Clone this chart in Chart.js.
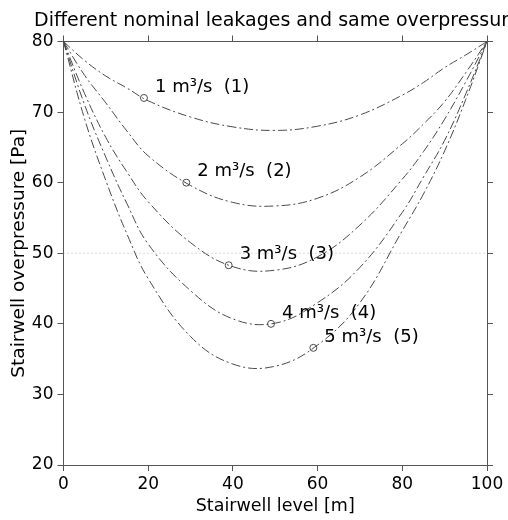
<!DOCTYPE html>
<html lang="en">
  <head>
    <meta charset="UTF-8" />
    <script src="https://cdn.jsdelivr.net/npm/chart.js"></script>
    <title>Different nominal leakages and same overpressure</title>
    <style>
      body { margin: 0; background: #fff; }
      #box { position: relative; width: 508px; height: 520px; }
    </style>
  </head>
  <body>
    <div id="box"><canvas id="myChart"></canvas></div>
  </body>
  <script>
    // dados
    const levels = [0, 5, 10, 15, 20, 30, 40, 50, 60, 70, 80, 85, 90, 95, 100];
    const curve1 = [80, 77.3, 75.1, 73.4, 71.6, 69.3, 67.9, 67.4, 68.0, 69.6, 72.4, 74.2, 76.3, 78.1, 80];
    const curve2 = [80, 75.2, 71.3, 67.3, 63.8, 59.6, 57.2, 56.7, 57.8, 60.8, 65.5, 68.3, 71.5, 75.6, 80];
    const curve3 = [80, 72.6, 66.4, 61.5, 57.3, 51.5, 48.1, 47.6, 49.5, 54.0, 60.5, 64.4, 69.0, 74.3, 80];
    const curve4 = [80, 71.0, 63.6, 57.0, 51.3, 44.7, 40.7, 40.1, 43.0, 48.0, 55.8, 60.8, 66.0, 72.6, 80];
    const curve5 = [80, 69.0, 60.3, 52.7, 46.4, 38.2, 34.3, 34.0, 37.0, 43.0, 53.2, 58.4, 64.5, 71.8, 80];
    const curves = [curve1, curve2, curve3, curve4, curve5];

    const markerX = [19, 29, 39, 49, 59];
    const markerY = [72, 60, 48.3, 40, 36.6];
    const curveNames = ["1 m³/s  (1)", "2 m³/s  (2)", "3 m³/s  (3)", "4 m³/s  (4)", "5 m³/s  (5)"];

    const refLevel = 50;
    const xTicks = [0, 20, 40, 60, 80, 100];
    const yTicks = [20, 30, 40, 50, 60, 70, 80];

    const fonte = "DejaVu Sans";
    const corLinha = "#4a4a4a";
    const corEixo = "#555";

    const datasets = curves.map((c) => ({
      type: "line",
      data: levels.map((x, i) => ({ x: x, y: c[i] })),
      borderColor: corLinha,
      borderWidth: 1,
      borderDash: [9, 3, 2, 3],
      pointRadius: 0,
      tension: 0.4,
      fill: false,
    }));

    // linha pontilhada de referencia
    datasets.push({
      type: "line",
      data: [
        { x: levels[0], y: refLevel },
        { x: levels[levels.length - 1], y: refLevel },
      ],
      borderColor: "#b5b5b5",
      borderWidth: 1,
      borderDash: [1, 3],
      pointRadius: 0,
      fill: false,
    });

    // marcadores (circulos abertos)
    datasets.push({
      type: "scatter",
      data: markerX.map((x, i) => ({ x: x, y: markerY[i] })),
      pointStyle: "circle",
      pointRadius: 3.5,
      backgroundColor: "rgba(0,0,0,0)",
      borderColor: corLinha,
      borderWidth: 1,
    });

    // titulo e rotulos das curvas
    const textos = {
      id: "textos",
      afterDraw(chart) {
        const c = chart.ctx;
        const sx = chart.scales.x;
        const sy = chart.scales.y;
        c.save();
        c.fillStyle = "#000";
        c.textAlign = "left";
        c.textBaseline = "alphabetic";
        c.font = "19px " + fonte;
        c.fillText("Different nominal leakages and same overpressure", 34, 26);
        c.font = "18px " + fonte;
        c.textBaseline = "middle";
        curveNames.forEach((nome, i) => {
          const px = sx.getPixelForValue(markerX[i]);
          const py = sy.getPixelForValue(markerY[i]);
          c.fillText(nome, px + 11, py - 11);
        });
        c.restore();
      },
    };

    const gradeEixo = {
      drawOnChartArea: false,
      drawTicks: true,
      tickLength: 6,
      color: corEixo,
    };

    new Chart(document.getElementById("myChart"), {
      data: { datasets: datasets },
      plugins: [textos],
      options: {
        responsive: true,
        maintainAspectRatio: false,
        animation: false,
        layout: { padding: 0 },
        plugins: {
          legend: { display: false },
          tooltip: { enabled: false },
          title: { display: false },
        },
        scales: {
          x: {
            type: "linear",
            position: "bottom",
            min: 0,
            max: 100,
            afterBuildTicks: (s) => { s.ticks = xTicks.map((v) => ({ value: v })); },
            afterFit: (s) => { s.height = 55; },
            ticks: { color: "#000", font: { family: fonte, size: 17 }, padding: 3, maxRotation: 0 },
            grid: gradeEixo,
            border: { display: true, color: corEixo },
            title: {
              display: true,
              text: "Stairwell level [m]",
              color: "#000",
              font: { family: fonte, size: 17.5 },
              padding: { top: 0, bottom: 3 },
            },
          },
          x2: {
            type: "linear",
            position: "top",
            min: 0,
            max: 100,
            afterBuildTicks: (s) => { s.ticks = xTicks.map((v) => ({ value: v })); },
            afterFit: (s) => { s.height = 41.5; },
            ticks: { display: false },
            grid: gradeEixo,
            border: { display: true, color: corEixo },
          },
          y: {
            type: "linear",
            position: "left",
            min: 20,
            max: 80,
            afterBuildTicks: (s) => { s.ticks = yTicks.map((v) => ({ value: v })); },
            afterFit: (s) => { s.width = 63.5; },
            ticks: { color: "#000", font: { family: fonte, size: 17 }, padding: 4 },
            grid: gradeEixo,
            border: { display: true, color: corEixo },
            title: {
              display: true,
              text: "Stairwell overpressure [Pa]",
              color: "#000",
              font: { family: fonte, size: 18.5 },
              padding: { top: 8, bottom: 0 },
            },
          },
          y2: {
            type: "linear",
            position: "right",
            min: 20,
            max: 80,
            afterBuildTicks: (s) => { s.ticks = yTicks.map((v) => ({ value: v })); },
            afterFit: (s) => { s.width = 21; },
            ticks: { display: false },
            grid: gradeEixo,
            border: { display: true, color: corEixo },
          },
        },
      },
    });
  </script>
</html>
